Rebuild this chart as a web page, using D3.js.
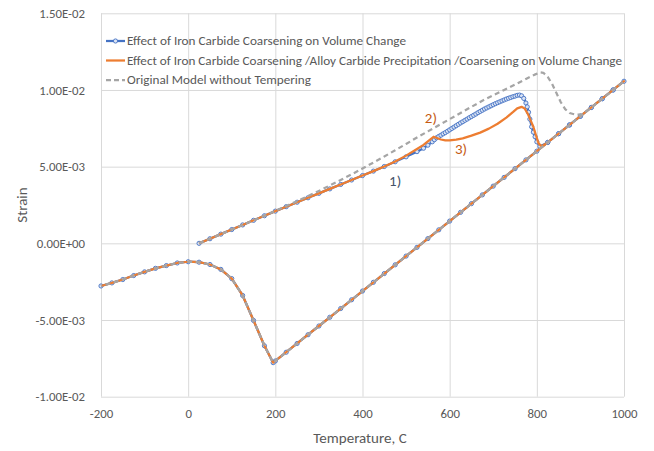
<!DOCTYPE html>
<html>
<head>
<meta charset="utf-8">
<script src="https://cdn.jsdelivr.net/npm/d3@7/dist/d3.min.js"></script>
<style>
  html, body { margin: 0; padding: 0; background: #fff; }
  svg text { font-family: Carlito, Lato, "Open Sans", sans-serif; fill: #595959; }
</style>
</head>
<body>
<svg id="chart" width="654" height="451"></svg>
<script>
// ---- tick values and labels ----
const xTicks = [-200, 0, 200, 400, 600, 800, 1000];
const xTickLabels = ["-200", "0", "200", "400", "600", "800", "1000"];
const yTicks = [-0.01, -0.005, 0, 0.005, 0.01, 0.015];
const yTickLabels = ["-1.00E-02", "-5.00E-03", "0.00E+00", "5.00E-03", "1.00E-02", "1.50E-02"];

// ---- series names ----
const seriesNames = [
  "Effect of Iron Carbide Coarsening on Volume Change",
  "Effect of Iron Carbide Coarsening /Alloy Carbide Precipitation /Coarsening on Volume Change",
  "Original Model without Tempering"
];

// ---- heating branch, iron carbide coarsening only (°C, strain x1e-3) ----
const ironTemp = [25, 50, 75, 100, 125, 150, 175, 200, 225, 250, 275, 300, 325, 350, 375, 400, 425, 450, 475, 500, 525,
  540, 550, 560, 565, 570, 575, 580, 585, 590, 595, 600, 605, 610, 615, 620, 625, 630, 635, 640, 645, 650, 655, 660,
  665, 670, 675, 680, 685, 690, 695, 700, 705, 710, 715, 720, 725, 730, 735, 740, 745, 750, 755, 760, 765, 770,
  775, 778, 781, 784, 788, 792, 796, 800, 807, 825, 850, 875, 900, 925, 950, 975, 1000];
const ironStrain = [0, 0.30, 0.60, 0.90, 1.20, 1.50, 1.80, 2.10, 2.39, 2.68, 2.97, 3.26, 3.55, 3.84, 4.13, 4.42, 4.71, 5.01, 5.32, 5.64, 5.98,
  6.20, 6.40, 6.62, 6.76, 6.88, 6.97, 7.05, 7.14, 7.22, 7.31, 7.40, 7.49, 7.58, 7.67, 7.76, 7.85, 7.93, 8.02, 8.10, 8.19, 8.27, 8.35, 8.43,
  8.52, 8.60, 8.68, 8.76, 8.83, 8.90, 8.97, 9.04, 9.11, 9.17, 9.23, 9.29, 9.35, 9.41, 9.46, 9.51, 9.56, 9.60, 9.65, 9.67, 9.62, 9.45,
  9.15, 8.90, 8.55, 8.10, 7.60, 7.25, 6.95, 6.62, 6.32, 6.58, 7.15, 7.72, 8.29, 8.86, 9.43, 10.00, 10.57];

// ---- heating branch, iron + alloy carbide precipitation/coarsening ----
const alloyTemp = [25, 50, 75, 100, 125, 150, 175, 200, 225, 250, 275, 300, 325, 350, 375, 400, 425, 450, 475, 500, 525,
  540, 550, 563, 572, 580, 590, 600, 615, 630, 650, 670, 690, 710, 730, 745, 755, 765, 772, 780, 786, 792, 798, 804, 811,
  825, 850, 875, 900, 925, 950, 975, 1000];
const alloyStrain = [0, 0.30, 0.60, 0.90, 1.20, 1.50, 1.80, 2.10, 2.39, 2.68, 2.97, 3.26, 3.55, 3.84, 4.13, 4.42, 4.71, 5.01, 5.34, 5.72, 6.15,
  6.42, 6.65, 6.95, 6.85, 6.77, 6.72, 6.72, 6.76, 6.84, 7.02, 7.22, 7.48, 7.80, 8.20, 8.55, 8.80, 8.90, 8.80, 8.40, 8.00, 7.60, 7.05, 6.52, 6.32,
  6.58, 7.15, 7.72, 8.29, 8.86, 9.43, 10.00, 10.57];

// ---- heating branch, original model without tempering ----
const baseTemp = [25, 50, 75, 100, 125, 150, 175, 200, 225, 250, 275, 300, 325, 350, 375, 400, 425, 450, 475, 500, 525,
  550, 575, 600, 625, 650, 675, 700, 725, 750, 775, 795, 807, 815, 825, 835, 845, 855, 865, 875, 890, 905, 925, 950, 975, 1000];
const baseStrain = [0, 0.30, 0.60, 0.90, 1.20, 1.50, 1.80, 2.12, 2.43, 2.75, 3.08, 3.42, 3.77, 4.13, 4.50, 4.88, 5.27, 5.66, 6.07, 6.48, 6.90,
  7.30, 7.70, 8.10, 8.50, 8.90, 9.30, 9.65, 10.00, 10.35, 10.72, 11.00, 11.15, 11.12, 10.85, 10.40, 9.80, 9.20, 8.75, 8.50, 8.38, 8.41,
  8.86, 9.43, 10.00, 10.57];

// ---- cooling branch shared by all three models ----
const coolTemp = [1000, 975, 950, 925, 900, 875, 850, 825, 800, 775, 750, 725, 700, 675, 650, 625, 600, 575, 550, 525,
  500, 475, 450, 425, 400, 375, 350, 325, 300, 275, 250, 225, 200, 195, 175, 150, 125, 100, 75, 50, 25, 0,
  -25, -50, -75, -100, -125, -150, -175, -200];
const coolStrain = [10.57, 10.00, 9.43, 8.86, 8.29, 7.72, 7.15, 6.58, 6.01, 5.44, 4.87, 4.30, 3.73, 3.16, 2.59, 2.02, 1.45, 0.88, 0.31, -0.26,
  -0.83, -1.40, -1.97, -2.54, -3.11, -3.68, -4.25, -4.82, -5.39, -5.96, -6.53, -7.10, -7.67, -7.78, -6.68, -5.03, -3.40, -2.30, -1.70, -1.38, -1.23, -1.20,
  -1.28, -1.45, -1.63, -1.86, -2.10, -2.36, -2.58, -2.78];

// ---- annotation labels (position in °C / strain x1e-3) ----
const notes = [
  { text: "1)", t: 475, s: 3.75, color: "#44546A" },
  { text: "2)", t: 557, s: 7.85, color: "#C55A11" },
  { text: "3)", t: 626, s: 5.85, color: "#C55A11" }
];

const toPoints = (ts, ss) => ts.map((t, i) => ({ t, s: ss[i] * 1e-3 }));
const cooling = toPoints(coolTemp, coolStrain);
const series = [
  { name: seriesNames[0], color: "#4472C4", pts: toPoints(ironTemp, ironStrain).concat(cooling.slice(1)), markers: true, legW: 279 },
  { name: seriesNames[1], color: "#ED7D31", pts: toPoints(alloyTemp, alloyStrain).concat(cooling.slice(1)), legW: 495 },
  { name: seriesNames[2], color: "#A5A5A5", pts: toPoints(baseTemp, baseStrain).concat(cooling.slice(1)), dash: "5,3.5", legW: 184 }
];

const svg = d3.select("#chart");
const x = d3.scaleLinear().domain([-200, 1000]).range([101, 624]);
const y = d3.scaleLinear().domain([-0.01, 0.015]).range([396.7, 13.3]);

// gridlines
svg.append("g").attr("transform", `translate(0,${y.range()[0]})`)
  .call(d3.axisBottom(x).tickValues(xTicks).tickSize(-(y.range()[0] - y.range()[1])).tickFormat(""))
  .call(g => g.select(".domain").remove())
  .call(g => g.selectAll("line").attr("stroke", "#D9D9D9").attr("stroke-width", 1));
svg.append("g").attr("transform", `translate(${x.range()[0]},0)`)
  .call(d3.axisLeft(y).tickValues(yTicks).tickSize(-(x.range()[1] - x.range()[0])).tickFormat(""))
  .call(g => g.select(".domain").remove())
  .call(g => g.selectAll("line").attr("stroke", "#D9D9D9").attr("stroke-width", 1));

// tick labels
svg.append("g").attr("transform", `translate(0,${y.range()[0] + 9})`)
  .call(d3.axisBottom(x).tickValues(xTicks).tickSize(0).tickFormat((d, i) => xTickLabels[i]))
  .call(g => g.select(".domain").remove())
  .call(g => g.selectAll("text").attr("font-size", "12.8px").attr("fill", "#595959"));
svg.append("g").attr("transform", `translate(${x.range()[0] - 13},0)`)
  .call(d3.axisLeft(y).tickValues(yTicks).tickSize(0).tickFormat((d, i) => yTickLabels[i]))
  .call(g => g.select(".domain").remove())
  .call(g => g.selectAll("text").attr("font-size", "12.8px").attr("fill", "#595959"));

// axis titles
svg.append("text").attr("x", 360).attr("y", 443).attr("text-anchor", "middle")
  .attr("font-size", "15px").text("Temperature, C");
svg.append("text").attr("transform", "translate(27,205) rotate(-90)").attr("text-anchor", "middle")
  .attr("font-size", "15px").text("Strain");

// curves
const line = d3.line().x(d => x(d.t)).y(d => y(d.s));
series.forEach(sr => {
  svg.append("path").datum(sr.pts).attr("fill", "none").attr("stroke", sr.color)
    .attr("stroke-width", 2.25).attr("stroke-linejoin", "round")
    .attr("stroke-dasharray", sr.dash || null).attr("d", line);
  if (sr.markers) {
    svg.append("g").selectAll("circle").data(sr.pts).join("circle")
      .attr("cx", d => x(d.t)).attr("cy", d => y(d.s)).attr("r", 2.1)
      .attr("fill", "#DAE3F3").attr("stroke", sr.color).attr("stroke-width", 0.9);
  }
});

// annotations
svg.append("g").selectAll("text").data(notes).join("text")
  .attr("x", d => x(d.t)).attr("y", d => y(d.s * 1e-3)).attr("text-anchor", "middle")
  .attr("font-size", "15px").style("fill", d => d.color).text(d => d.text);

// legend
const leg = svg.append("g").attr("transform", "translate(106,41)");
series.forEach((sr, i) => {
  const g = leg.append("g").attr("transform", `translate(0,${i * 19.5})`);
  g.append("line").attr("x1", 0).attr("x2", 19).attr("y1", 0).attr("y2", 0)
    .attr("stroke", sr.color).attr("stroke-width", 2.25).attr("stroke-dasharray", sr.dash ? "5,3" : null);
  if (sr.markers) g.append("circle").attr("cx", 9.5).attr("cy", 0).attr("r", 2.1)
    .attr("fill", "#DAE3F3").attr("stroke", sr.color).attr("stroke-width", 0.9);
  g.append("text").attr("x", 21).attr("y", 4.3).attr("font-size", "12.4px")
    .attr("textLength", sr.legW).attr("lengthAdjust", "spacingAndGlyphs").text(sr.name);
});
</script>
</body>
</html>
